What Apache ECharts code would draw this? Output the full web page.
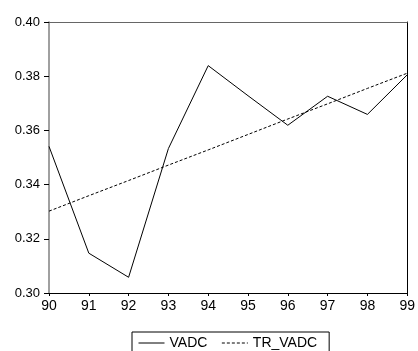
<!DOCTYPE html>
<html>
<head>
<meta charset="utf-8">
<script src="https://cdn.jsdelivr.net/npm/echarts@6/dist/echarts.min.js"></script>
<style>html,body{margin:0;padding:0;background:#fff;}#c{width:418px;height:351px;}</style>
</head>
<body>
<div id="c"></div>
<script>
var years = ['90','91','92','93','94','95','96','97','98','99'];
var vadc = [0.3541, 0.3147, 0.3058, 0.3533, 0.3839, 0.3728, 0.3619, 0.3726, 0.3659, 0.3805];
var trVadc = [0.3302, 0.3359, 0.3415, 0.3472, 0.3528, 0.3585, 0.3642, 0.3698, 0.3755, 0.3811];
var yTicks = {min: 0.30, max: 0.40, interval: 0.02};

var chart = echarts.init(document.getElementById('c'), null, {renderer: 'canvas'});
var font = 'Liberation Sans, Arial, sans-serif';
chart.setOption({
  animation: false,
  backgroundColor: '#fff',
  grid: {left: 49, right: 8, top: 22, bottom: 58, containLabel: false},
  xAxis: [{
    type: 'category', data: years, boundaryGap: false, position: 'bottom',
    axisLine: {lineStyle: {color: '#000', width: 1}},
    axisTick: {show: true, length: 3, inside: false, lineStyle: {color: '#000'}},
    axisLabel: {color: '#000', fontSize: 14, fontFamily: font, margin: 6},
    splitLine: {show: false}
  }, {
    type: 'category', data: years, boundaryGap: false, position: 'top',
    axisLine: {lineStyle: {color: '#666', width: 1}},
    axisTick: {show: false}, axisLabel: {show: false}, splitLine: {show: false}
  }],
  yAxis: [{
    type: 'value', min: yTicks.min, max: yTicks.max, interval: yTicks.interval, position: 'left',
    axisLine: {show: true, lineStyle: {color: '#808080', width: 1.5}},
    axisTick: {show: true, length: 5, lineStyle: {color: '#000'}},
    axisLabel: {color: '#000', fontSize: 13, fontFamily: font, margin: 9,
      formatter: function(v){ return v.toFixed(2); }},
    splitLine: {show: false}
  }, {
    type: 'value', min: yTicks.min, max: yTicks.max, interval: yTicks.interval, position: 'right',
    axisLine: {show: true, lineStyle: {color: '#000', width: 1}},
    axisTick: {show: false}, axisLabel: {show: false}, splitLine: {show: false}
  }],
  legend: {
    left: 132, top: 332, orient: 'horizontal',
    borderColor: '#000', borderWidth: 1, borderRadius: 0,
    padding: [4, 12, 6, 6], itemGap: 14, itemWidth: 26, itemHeight: 10,
    itemStyle: {opacity: 0},
    lineStyle: {width: 1},
    textStyle: {color: '#000', fontSize: 14, fontFamily: font},
    data: [{name: 'VADC'}, {name: 'TR_VADC'}]
  },
  series: [{
    name: 'VADC', type: 'line', data: vadc, symbol: 'none',
    lineStyle: {color: '#000', width: 1, type: 'solid'}, itemStyle: {color: '#000', opacity: 0}
  }, {
    name: 'TR_VADC', type: 'line', data: trVadc, symbol: 'none',
    lineStyle: {color: '#000', width: 1, type: [3, 2]}, itemStyle: {color: '#000', opacity: 0}
  }]
});
</script>
</body>
</html>
